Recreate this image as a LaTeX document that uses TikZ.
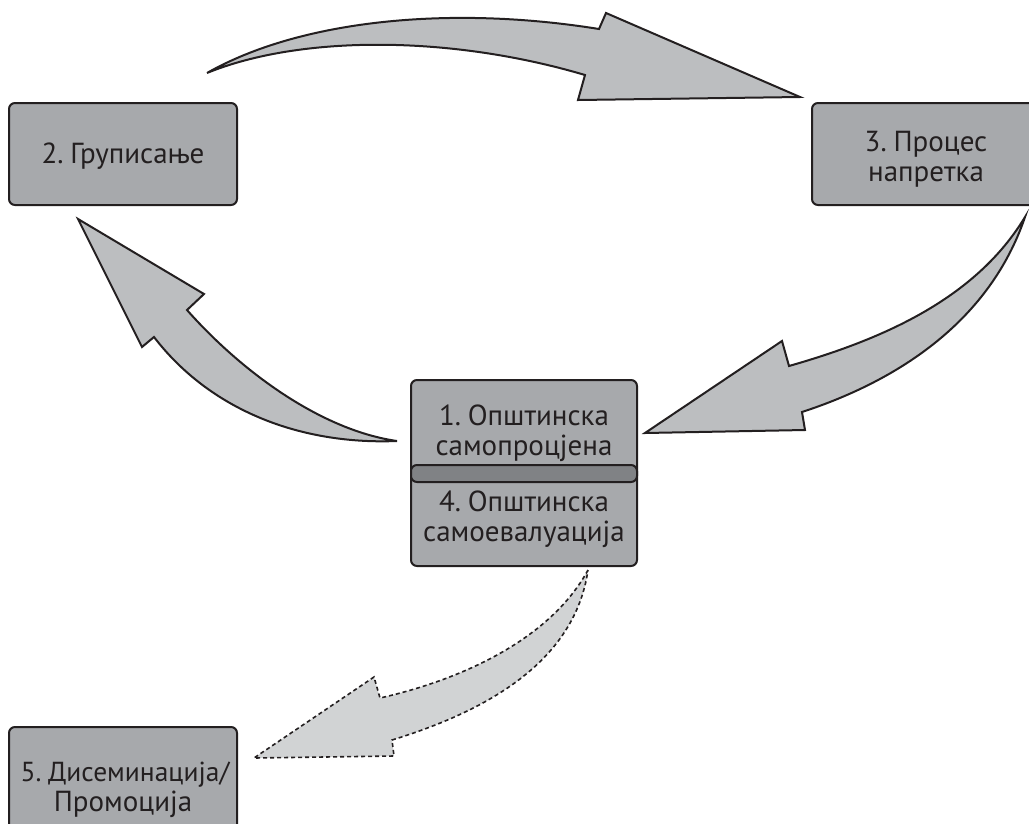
\documentclass[tikz,border=0pt]{standalone}
\usepackage{fontspec}
\setmainfont[WordSpace=0.55]{PT Sans}
\definecolor{boxfill}{HTML}{A7A9AC}
\definecolor{arrowfill}{HTML}{BCBEC0}
\definecolor{dashfill}{HTML}{D1D3D4}
\definecolor{barfill}{HTML}{808285}
\definecolor{ink}{HTML}{231F20}
\begin{document}
\begin{tikzpicture}[x=1pt,y=-1pt,
  stagebox/.style={draw=ink,line width=2pt,fill=boxfill,rounded corners=6pt,inner sep=0pt},
  stagetext/.style={text=ink,font=\fontsize{29}{30}\selectfont,anchor=base,inner sep=0pt},
  blockarrow/.style={draw=ink,line width=2pt,fill=arrowfill,line join=miter},
  dasharrow/.style={draw=ink,line width=1.6pt,fill=dashfill,dash pattern=on 4pt off 3pt}]
\useasboundingbox (0,0) rectangle (1029,823);
% boxes
\node[stagebox,minimum width=228pt,minimum height=102pt] (b2) at (123,154) {};
\node[stagetext] (t2) at (123,163) {2. Груписање};
\node[stagebox,minimum width=228pt,minimum height=102pt] (b3) at (926,154) {};
\node[stagetext] (t3a) at (926,151) {3. Процес};
\node[stagetext] (t3b) at (926,181) {напретка};
\node[stagebox,minimum width=226pt,minimum height=186pt] (b1) at (524,473) {};
\draw[draw=ink,line width=2pt,fill=barfill,rounded corners=6pt] (411,465) rectangle (637,482);
\node[stagetext] (t1a) at (524,425) {1. Општинска};
\node[stagetext] (t1b) at (524,455) {самопроцјена};
\node[stagetext] (t4a) at (524,511) {4. Општинска};
\node[stagetext] (t4b) at (524,541) {самоевалуација};
\node[stagebox,minimum width=228pt,minimum height=110pt] (b5) at (123,782) {};
\node[stagetext,font=\fontsize{27.5}{30}\selectfont] (t5a) at (125,781) {5. Дисеминација/};
\node[stagetext] (t5b) at (123,811) {Промоција};
% top arrow 2 -> 3
\draw[blockarrow] (207,73) .. controls (300,20) and (450,5) .. (599,29) -- (606,13) -- (800,97) -- (578,100) -- (585,75) .. controls (450,35) and (300,35) .. cycle;
% right arrow 3 -> 1
\draw[blockarrow] (1025,217) .. controls (975,300) and (880,340) .. (789,366) -- (782,341) -- (645,433) -- (805,430) -- (802,412) .. controls (900,380) and (990,320) .. cycle;
% left arrow 1 -> 2
\draw[blockarrow] (78,219) -- (204,294) -- (187,310) .. controls (240,370) and (320,430) .. (397,441) .. controls (300,445) and (210,410) .. (154,337) -- (142,347) -- cycle;
% dashed arrow 4 -> 5
\draw[dasharrow] (588,570) .. controls (550,640) and (460,680) .. (380,698) -- (374,677) -- (254,758) -- (394,756) -- (392,740) .. controls (490,710) and (575,660) .. cycle;
\end{tikzpicture}
\end{document}
